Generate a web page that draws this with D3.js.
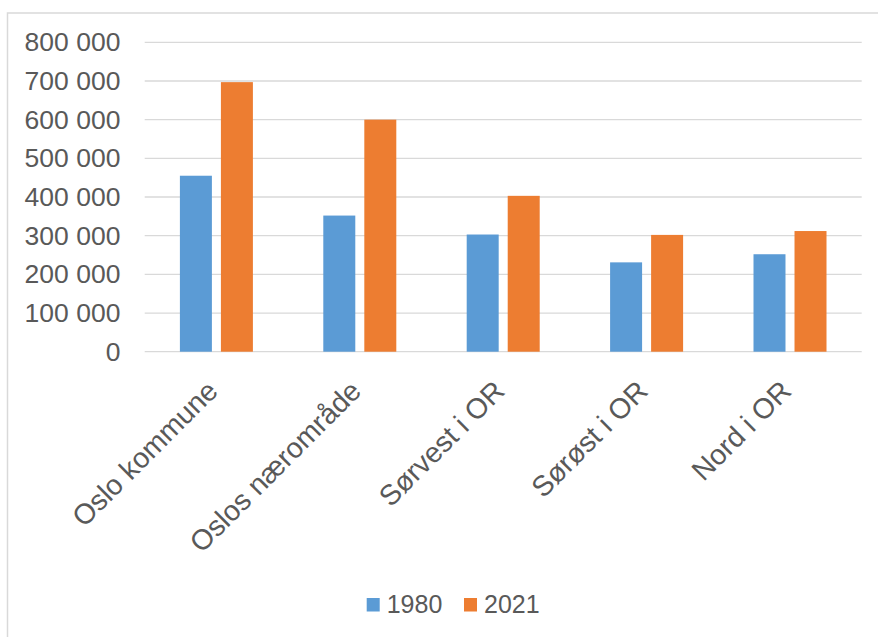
<!DOCTYPE html>
<html>
<head>
<meta charset="utf-8">
<script src="https://cdn.jsdelivr.net/npm/d3@7"></script>
<style>
  html, body { margin: 0; padding: 0; background: #fff; }
  svg { display: block; font-family: "Liberation Sans", Arial, sans-serif; }
</style>
</head>
<body>
<svg id="chart" width="878" height="637"></svg>
<script>
const categories = ["Oslo kommune", "Oslos nærområde", "Sørvest i OR", "Sørøst i OR", "Nord i OR"];
const seriesNames = ["1980", "2021"];
const values1980 = [455000, 352000, 303000, 231000, 252000];
const values2021 = [697000, 600000, 403000, 302000, 312000];
const yTicks = [0, 100000, 200000, 300000, 400000, 500000, 600000, 700000, 800000];
const colors = ["#5B9BD5", "#ED7D31"];

const seriesValues = [values1980, values2021];
const svg = d3.select("#chart");
const plot = { left: 144.7, right: 861.7, top: 42.3, bottom: 351.7 };
const textColor = "#595959";
const gridColor = "#d9d9d9";
const fontFamily = '"Liberation Sans", Arial, sans-serif';

// chart border
svg.append("rect")
  .attr("x", 7.5).attr("y", 13)
  .attr("width", 900).attr("height", 700)
  .attr("fill", "none").attr("stroke", gridColor).attr("stroke-width", 1.5);

const y = d3.scaleLinear().domain([0, 800000]).range([plot.bottom, plot.top]);
const x0 = d3.scaleBand().domain(categories).range([plot.left, plot.right]).padding(0);
const groupW = 73;
const x1 = d3.scaleBand().domain(seriesNames).range([0, groupW]).paddingInner(0.22).paddingOuter(0);

const locale = d3.formatLocale({ decimal: ",", thousands: "\u00a0", grouping: [3], currency: ["", ""] });
const fmt = locale.format(",");

// gridlines
svg.append("g").selectAll("line").data(yTicks).join("line")
  .attr("x1", plot.left).attr("x2", plot.right)
  .attr("y1", d => y(d)).attr("y2", d => y(d))
  .attr("stroke", gridColor).attr("stroke-width", 1.3);

// y axis labels
const yAxis = svg.append("g")
  .attr("transform", `translate(${plot.left},0)`)
  .call(d3.axisLeft(y).tickValues(yTicks).tickSize(0).tickPadding(24.3).tickFormat(fmt));
yAxis.select(".domain").remove();
yAxis.selectAll("text")
  .attr("fill", textColor).style("font-size", "26.5px")
  .style("font-family", fontFamily);

// bars
const groups = svg.append("g").selectAll("g").data(categories).join("g")
  .attr("transform", c => `translate(${x0(c) + (x0.bandwidth() - groupW) / 2},0)`);
groups.selectAll("rect")
  .data((c, i) => seriesNames.map((s, j) => ({ s, j, v: seriesValues[j][i] })))
  .join("rect")
  .attr("x", d => x1(d.s))
  .attr("width", x1.bandwidth())
  .attr("y", d => y(d.v))
  .attr("height", d => y(0) - y(d.v))
  .attr("fill", d => colors[d.j]);

// x axis labels
const xAxis = svg.append("g")
  .attr("transform", `translate(0,${plot.bottom})`)
  .call(d3.axisBottom(x0).tickSize(0).tickPadding(0));
xAxis.select(".domain").remove();
xAxis.selectAll("text")
  .attr("fill", textColor).style("font-size", "28.5px")
  .style("font-family", fontFamily)
  .attr("text-anchor", "end")
  .attr("y", 0)
  .attr("dy", "0")
  .attr("transform", "translate(3,41) rotate(-45)");

// legend
const legendX = [366.7, 464];
const legend = svg.append("g").selectAll("g").data(seriesNames).join("g")
  .attr("transform", (d, i) => `translate(${legendX[i]},598)`);
legend.append("rect").attr("width", 13).attr("height", 13.5)
  .attr("fill", (d, i) => colors[i]);
legend.append("text")
  .attr("x", 20).attr("y", 15.3)
  .attr("fill", textColor).style("font-size", "25px")
  .style("font-family", fontFamily)
  .text(d => d);
</script>
</body>
</html>
